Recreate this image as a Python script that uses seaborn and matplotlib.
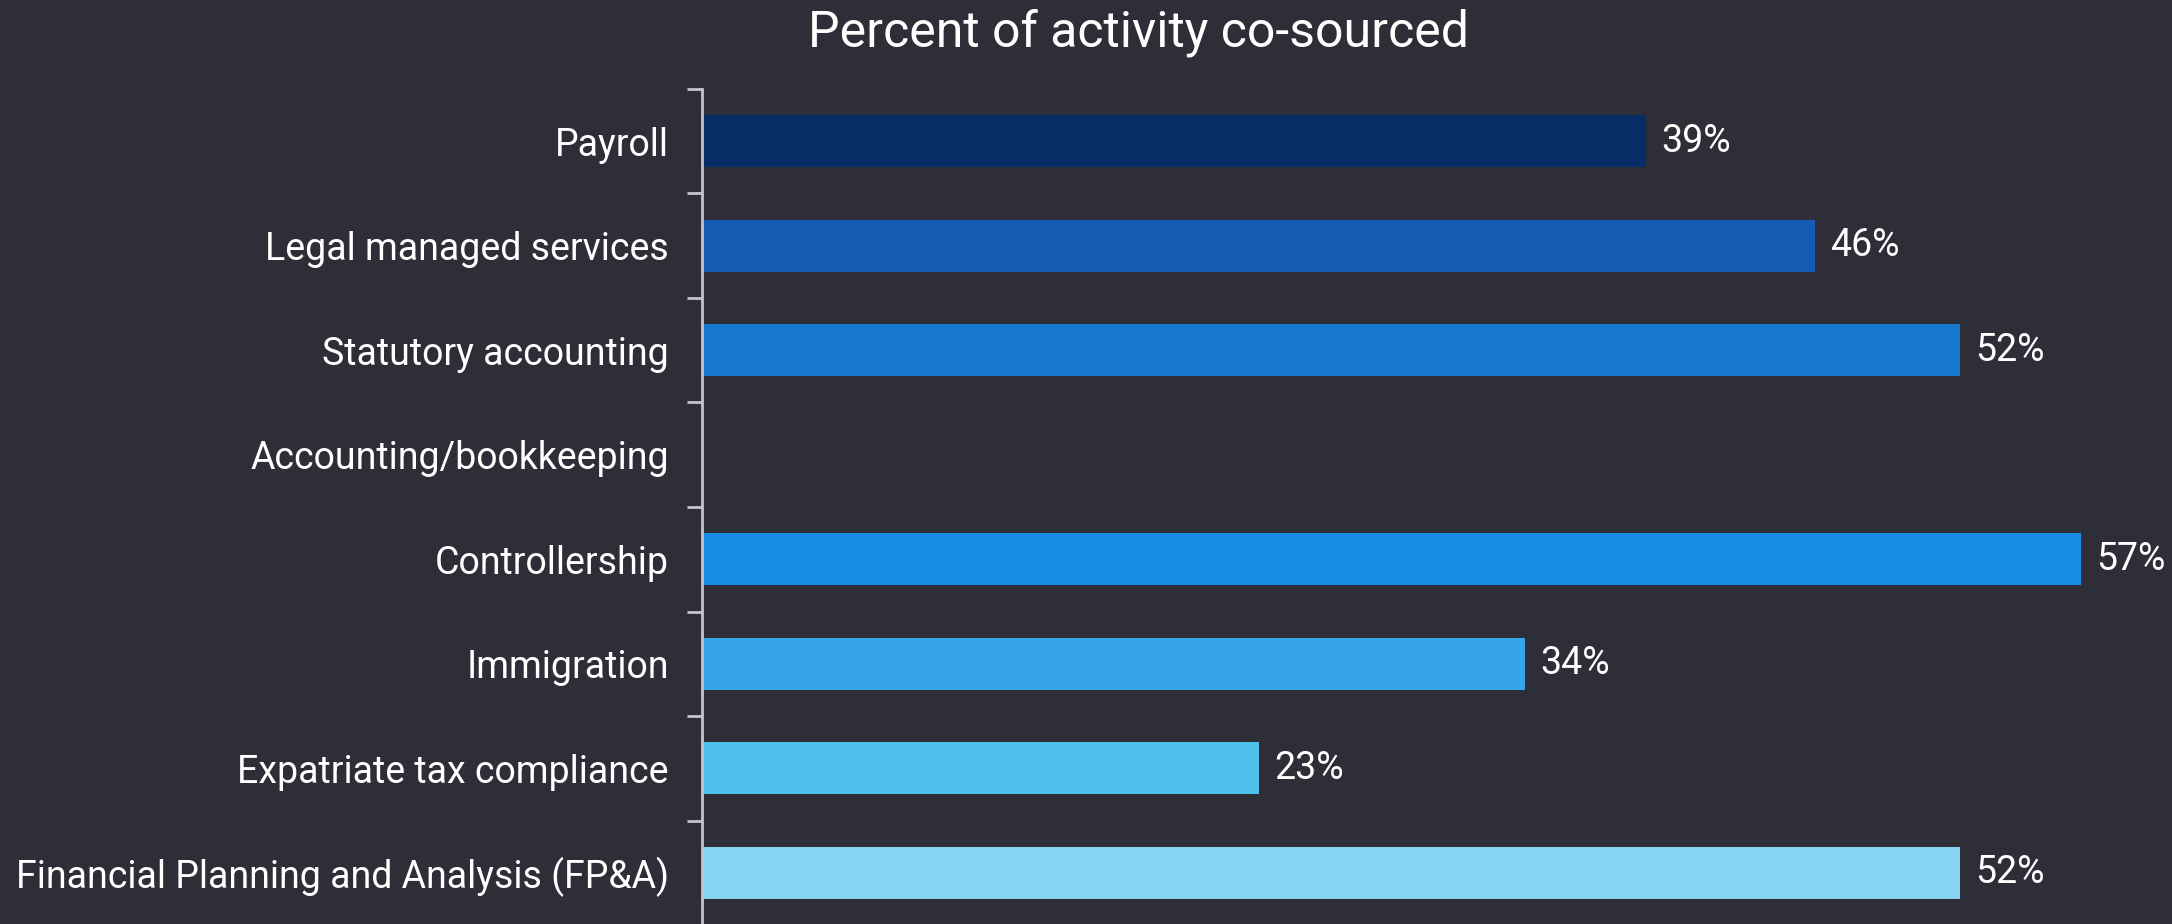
import numpy as np
import pandas as pd
import matplotlib
matplotlib.use("Agg")
import matplotlib.pyplot as plt
import seaborn as sns
from matplotlib.ticker import FixedLocator

# Chart data
categories = [
    "Payroll",
    "Legal managed services",
    "Statutory accounting",
    "Accounting/bookkeeping",
    "Controllership",
    "Immigration",
    "Expatriate tax compliance",
    "Financial Planning and Analysis (FP&A)",
]
values = [39, 46, 52, np.nan, 57, 34, 23, 52]
bar_colors = ["#082C65", "#155CB4", "#1777CF", "#188CE5", "#188CE5",
              "#35A4E8", "#4EBEEB", "#87D3F2"]
title = "Percent of activity co-sourced"

BG = "#2E2E38"
FG = "#FFFFFF"
AXIS = "#C4C4CD"

sns.set_theme(style="white")
plt.rcParams["font.family"] = ["Roboto", "DejaVu Sans"]

df = pd.DataFrame({"activity": categories, "pct": values}).dropna()
palette = dict(zip(categories, bar_colors))

fig = plt.figure(figsize=(21.72, 9.24), dpi=100, facecolor=BG)
ax = fig.add_axes([0.3232, -0.0011, 0.6685, 0.9048], facecolor=BG)

sns.barplot(data=df, x="pct", y="activity", hue="activity", order=categories,
            hue_order=categories, palette=palette, width=0.5, legend=False,
            saturation=1, linewidth=0, edgecolor="none", ax=ax)

ax.set_xlim(0, 60)
ax.set_ylim(len(categories) - 0.5, -0.5)
ax.set_xlabel("")
ax.set_ylabel("")
ax.set_xticks([])

for side in ["top", "right", "bottom"]:
    ax.spines[side].set_visible(False)
ax.spines["left"].set_color(AXIS)
ax.spines["left"].set_linewidth(2)

# category labels without tick marks; boundary ticks between categories
ax.tick_params(axis="y", which="major", left=True, length=0, pad=24,
               labelsize=27, labelcolor=FG)
ax.yaxis.set_minor_locator(FixedLocator(np.arange(-0.5, len(categories), 1.0)))
ax.tick_params(axis="y", which="minor", left=True, length=11, width=2,
               color=AXIS, direction="out")

for patch in ax.patches:
    w = patch.get_width()
    if not np.isfinite(w) or w <= 0:
        continue
    yc = patch.get_y() + patch.get_height() / 2
    ax.annotate(f"{w:.0f}%", xy=(w, yc), xytext=(11, 0),
                textcoords="offset points", va="center", ha="left",
                color=FG, fontsize=27)

fig.text(0.524, 0.965, title, ha="center", va="center", color=FG,
         fontsize=36, fontweight="normal")

fig.savefig("out.png", dpi=100, facecolor=BG)
